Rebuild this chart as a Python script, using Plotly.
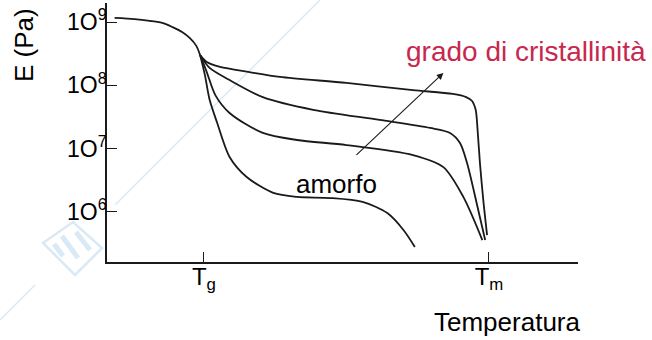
import plotly.graph_objects as go

# --- dati (temperatura in unità arbitrarie: Tg = 100, Tm = 400) ---
T_vetroso = [6, 27, 43, 57, 67, 77, 85, 92, 96]
E_vetroso = [1.16e9, 1.11e9, 1.04e9, 9.6e8, 8.3e8, 6.95e8, 5.6e8, 4.2e8, 3.0e8]

T_cris_alto = [96, 103, 117, 148, 180, 250, 320, 362, 376, 382, 386, 388, 390.5, 394, 398]
E_cris_alto = [3.0e8, 2.33e8, 1.95e8, 1.62e8, 1.36e8, 1.09e8, 8.4e7, 7.3e7, 6.5e7,
               5.7e7, 4.1e7, 2.0e7, 5.9e6, 1.55e6, 4.3e5]

T_cris_medio = [96, 106, 127, 162, 215, 285, 338, 359, 369.5, 377, 387, 396]
E_cris_medio = [3.0e8, 1.88e8, 1.21e8, 6.5e7, 4.1e7, 2.84e7, 2.12e7, 1.77e7,
                1.23e7, 5.9e6, 1.39e6, 3.6e5]

T_cris_basso = [96, 103, 112, 127, 162, 198, 250, 320, 352, 373, 393]
E_cris_basso = [3.0e8, 1.62e8, 7.0e7, 3.66e7, 1.77e7, 1.37e7, 1.14e7, 7.9e6,
                5.1e6, 1.73e6, 3.6e5]

T_amorfo = [96, 101, 106, 114, 127, 145, 173, 198, 233, 267, 293, 310, 322]
E_amorfo = [3.0e8, 1.46e8, 5.9e7, 2.54e7, 7.4e6, 3.57e6, 2.0e6, 1.73e6, 1.66e6,
            1.44e6, 9.6e5, 5.2e5, 2.8e5]

# freccia: coda e punta (T, log10 E)
freccia_coda = (259, 6.88)
freccia_punta = (352, 8.195)

y_tick_vals = [1e6, 1e7, 1e8, 1e9]
y_tick_text = ["1O<sup>6</sup>", "1O<sup>7</sup>", "1O<sup>8</sup>", "1O<sup>9</sup>"]
x_tick_vals = [100, 400]
x_tick_text = ["T<sub>g</sub>", "T<sub>m</sub>"]

FONT = "Liberation Sans, Arial, sans-serif"
linea = dict(color="#1a1a1a", width=1.8, shape="spline", smoothing=0.8)
AZZURRO = "#d9e9f5"


def px_x(px):
    return (px - 107) / 471


def px_y(py):
    return (262 - py) / 259


fig = go.Figure()
for T, E in [(T_vetroso, E_vetroso), (T_cris_alto, E_cris_alto),
             (T_cris_medio, E_cris_medio), (T_cris_basso, E_cris_basso),
             (T_amorfo, E_amorfo)]:
    fig.add_trace(go.Scatter(x=T, y=E, mode="lines", line=linea,
                             hoverinfo="skip", showlegend=False))

# freccia "grado di cristallinità" (assi log: coordinate in log10)
fig.add_annotation(x=freccia_punta[0], y=freccia_punta[1],
                   ax=freccia_coda[0], ay=freccia_coda[1],
                   xref="x", yref="y", axref="x", ayref="y",
                   text="", showarrow=True, arrowhead=2, arrowsize=1.2,
                   arrowwidth=1.1, arrowcolor="#1a1a1a")
fig.add_annotation(text="grado di cristallinità", x=px_x(648), y=px_y(52),
                   xref="paper", yref="paper", xanchor="right", yanchor="middle",
                   showarrow=False, font=dict(family=FONT, size=28, color="#c8284e"))
fig.add_annotation(text="amorfo", x=px_x(336), y=px_y(184),
                   xref="paper", yref="paper", xanchor="center", yanchor="middle",
                   showarrow=False, font=dict(family=FONT, size=26, color="black"))
fig.add_annotation(text="E (Pa)", x=px_x(24), y=px_y(45),
                   xref="paper", yref="paper", textangle=-90, xanchor="center",
                   yanchor="middle", showarrow=False,
                   font=dict(family=FONT, size=26, color="black"))
fig.add_annotation(text="Temperatura", x=px_x(507), y=px_y(322),
                   xref="paper", yref="paper", xanchor="center", yanchor="middle",
                   showarrow=False, font=dict(family=FONT, size=26, color="black"))

# filigrana: linea diagonale + logo sbiadito
for x0, y0, x1, y1 in [(0, 320, 35, 285), (115, 205, 320, 0)]:
    fig.add_shape(type="line", xref="paper", yref="paper", layer="below",
                  x0=px_x(x0), y0=px_y(y0), x1=px_x(x1), y1=px_y(y1),
                  line=dict(color=AZZURRO, width=1.5))
logo = [(43, 243), (73, 222), (102, 248), (75, 275)]
fig.add_shape(type="path", xref="paper", yref="paper", layer="below",
              path="M " + " L ".join(f"{px_x(a):.4f},{px_y(b):.4f}" for a, b in logo) + " Z",
              line=dict(color=AZZURRO, width=2.5))
for x0, y0, x1, y1 in [(54, 244, 63, 256), (62, 236, 78, 258), (76, 232, 90, 250)]:
    fig.add_shape(type="line", xref="paper", yref="paper", layer="below",
                  x0=px_x(x0), y0=px_y(y0), x1=px_x(x1), y1=px_y(y1),
                  line=dict(color=AZZURRO, width=5))

fig.update_xaxes(range=[-2, 493.7], showline=True, linecolor="#1a1a1a", linewidth=1.6,
                 showgrid=False, zeroline=False, ticks="inside", ticklen=10,
                 tickcolor="#1a1a1a", tickwidth=1.2, tickvals=x_tick_vals,
                 ticktext=x_tick_text, ticklabelstandoff=-8,
                 tickfont=dict(family=FONT, size=24, color="black"))
fig.update_yaxes(type="log", range=[5.21, 9.3], showline=True, linecolor="#1a1a1a",
                 linewidth=1.6, showgrid=False, zeroline=False, ticks="inside",
                 ticklen=10, tickcolor="#1a1a1a", tickwidth=1.2, tickvals=y_tick_vals,
                 ticktext=y_tick_text, ticklabelstandoff=-6,
                 tickfont=dict(family=FONT, size=23, color="black"))

fig.update_layout(width=652, height=340, margin=dict(l=107, r=74, t=3, b=78),
                  paper_bgcolor="white", plot_bgcolor="white")

fig.write_html("out.html", config={"displayModeBar": False},
               post_script="document.body.style.margin='0';")
